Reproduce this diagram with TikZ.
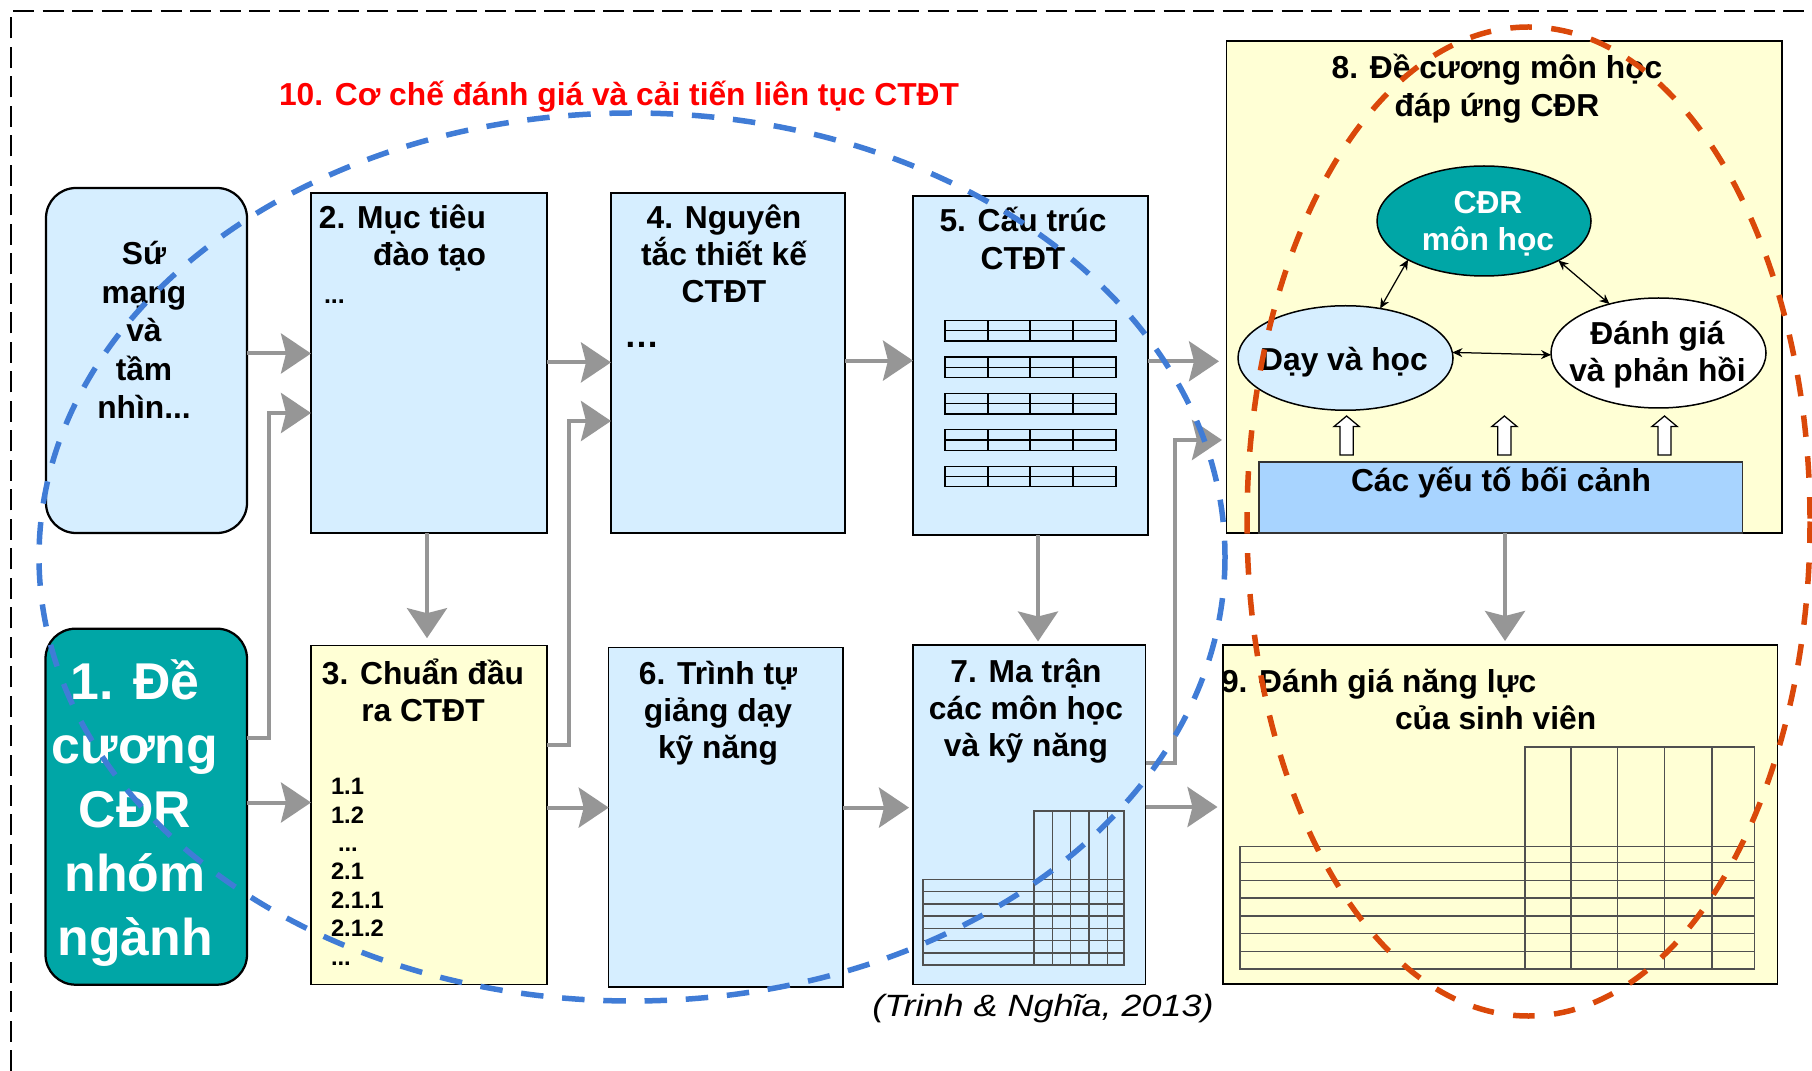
\documentclass[tikz,border=0pt]{standalone}
\usepackage{fontspec}
\setmainfont{Liberation Sans}
\usetikzlibrary{arrows.meta,shapes.geometric,fit,calc}

\definecolor{lblue}{RGB}{214,238,255}
\definecolor{lyel}{RGB}{255,255,213}
\definecolor{tealbox}{RGB}{0,166,166}
\definecolor{ctxb}{RGB}{168,212,255}
\definecolor{garr}{RGB}{150,150,150}
\definecolor{bdash}{RGB}{64,124,214}
\definecolor{odash}{RGB}{218,72,10}
\definecolor{gline}{RGB}{80,80,80}

\newcommand\mlc[1]{\vtop{\lineskiplimit=-\maxdimen\halign{\hfil##\hfil\cr#1\crcr}}}
\newcommand\mlr[1]{\vtop{\lineskiplimit=-\maxdimen\halign{\hfil##\cr#1\crcr}}}
\newcommand\mll[1]{\vtop{\lineskiplimit=-\maxdimen\halign{##\hfil\cr#1\crcr}}}

\tikzset{
  box/.style={draw=black, line width=0.6pt, inner sep=0pt, outer sep=0pt},
  rbox/.style={box, rounded corners=12pt, line width=0.9pt},
  lbl/.style={inner sep=0pt, outer sep=0pt, font=\bfseries\fontsize{12.7}{14.9}\selectfont},
  garrow/.style={draw=garr, line width=1.6pt, -{Stealth[length=12pt,width=16pt,inset=2pt]}},
  darrow/.style={draw=black, line width=0.5pt, {Stealth[length=4pt,width=3.6pt]}-{Stealth[length=4pt,width=3.6pt]}},
  grid7/.style={draw=gline, line width=0.5pt},
  grid9/.style={draw=gline, line width=0.65pt},
  tbl/.style={draw=black, line width=0.5pt},
  blockup/.style={draw=black, fill=white, line width=0.5pt},
  bell/.style={draw=bdash, line width=2.2pt, dash pattern=on 9pt off 7.5pt},
  oell/.style={draw=odash, line width=2.2pt, dash pattern=on 8.6pt off 7.8pt},
  ell/.style={ellipse, draw=black, line width=0.6pt, inner sep=0pt, outer sep=0pt},
}

\begin{document}
\begin{tikzpicture}[x=0.4pt, y=-0.4pt]
\useasboundingbox (0,0) rectangle (1812,1071);

% outer dashed frame
\draw[line width=1pt, dash pattern=on 8.4pt off 3.4pt] (11,1071) -- (11,11) -- (1812,11);

% boxes
\node[rbox, fill=lblue, fit={(46,188) (247,533)}] (m) {};
\node[rbox, fill=tealbox, fit={(45.5,628.7) (247,984.7)}] (b1) {};
\node[box, fill=lblue, fit={(311,193) (547,533)}] (b2) {};
\node[box, fill=lyel, fit={(311,645.7) (547,984.7)}] (b3) {};
\node[box, fill=lblue, fit={(611,193) (845,533)}] (b4) {};
\node[box, fill=lblue, fit={(608.7,647.7) (842.8,987)}] (b6) {};
\node[box, fill=lblue, fit={(913,196) (1148,535)}] (b5) {};
\node[box, fill=lblue, fit={(913,645) (1145.7,984.7)}] (b7) {};
\node[box, fill=lyel, fit={(1226.5,41) (1782,533)}] (b8) {};
\node[box, draw=black!80, fill=ctxb, fit={(1259,462) (1742.5,533)}] (ctx) {};
\node[box, fill=lyel, fit={(1223,645) (1777.6,984)}] (b9) {};

% mini tables in box 5
\foreach \yy in {320.6,357,393.4,429.8,466.2} {
  \draw[tbl] (945,\yy) rectangle (1116,\yy+20.5);
  \draw[tbl] (945,\yy+10.25) -- (1116,\yy+10.25);
  \foreach \xx in {988,1030,1073} \draw[tbl] (\xx,\yy) -- (\xx,\yy+20.5);
}

% matrix in box 7
\draw[grid7] (1034,811) rectangle (1124,965);
\foreach \xx in {1052.7,1070.5,1089,1107.3} \draw[grid7] (\xx,811) -- (\xx,965);
\draw[grid7] (923,879.7) rectangle (1124,965);
\foreach \yy in {891.6,904,916,928.5,940.7,953} \draw[grid7] (923,\yy) -- (1124,\yy);

% table in box 9
\draw[grid9] (1524.7,747.3) rectangle (1754.6,969.1);
\foreach \xx in {1570.8,1617.6,1664.4,1711.7} \draw[grid9] (\xx,747.3) -- (\xx,969.1);
\draw[grid9] (1240,846.5) rectangle (1754.6,969.1);
\foreach \yy in {862.4,880.4,898,916.3,933.6,951.5} \draw[grid9] (1240,\yy) -- (1754.6,\yy);

% ellipses in box 8
\node[ell, fill=tealbox, minimum width=85.6pt, minimum height=44pt] (cdr) at (1484,221) {};
\node[ell, fill=lblue, minimum width=86pt, minimum height=41.8pt] (day) at (1345.5,358) {};
\node[ell, fill=white, minimum width=86pt, minimum height=44pt] (dg) at (1658.5,353) {};
\draw[darrow] (cdr.207.5) -- (day.55);
\draw[darrow] (cdr.332.5) -- (dg.135);
\draw[darrow] (day.3) -- (dg.181);

% hollow up arrows
\foreach \cx in {1346.6,1504.4,1664.5} {
  \draw[blockup] (\cx-6.6,455) -- (\cx-6.6,426.6) -- (\cx-12.7,426.6) -- (\cx,416)
     -- (\cx+12.7,426.6) -- (\cx+6.6,426.6) -- (\cx+6.6,455) -- cycle;
}

% texts
\node[lbl, text=red, anchor=base west] (t10) at (279,105.3) {10. Cơ chế đánh giá và cải tiến liên tục CTĐT};
\node[lbl, anchor=base, font=\bfseries\fontsize{12.7}{15.4}\selectfont] (tm) at (144,265) {\mlc{Sứ\cr mạng\cr và\cr tầm\cr nhìn...}};
\node[lbl, anchor=base east] (t2) at (486,228.5) {\mlr{2. Mục tiêu\cr đào tạo}};
\node[lbl, anchor=base west, font=\bfseries\fontsize{10}{12}\selectfont] (t2d) at (324,303.5) {...};
\node[lbl, anchor=base] (t4) at (724,228.5) {\mlc{4. Nguyên\cr tắc thiết kế\cr CTĐT}};
\node[lbl, anchor=base west, font=\bfseries\fontsize{14}{16}\selectfont] (t4d) at (624,348) {…};
\node[lbl, anchor=base] (t5) at (1023,232) {\mlc{5. Cấu trúc\cr CTĐT}};
\node[lbl, anchor=base] (t8) at (1497,79) {\mlc{8. Đề cương môn học\cr đáp ứng CĐR}};
\node[lbl, anchor=base, text=white] (tcdr) at (1488,213.5) {\mlc{CĐR\cr môn học}};
\node[lbl, anchor=base] (tday) at (1344,371) {Dạy và học};
\node[lbl, anchor=base] (tdg) at (1657.5,344.5) {\mlc{Đánh giá\cr và phản hồi}};
\node[lbl, anchor=base] (tctx) at (1501,491) {Các yếu tố bối cảnh};
\node[lbl, anchor=base] (t3) at (423,684) {\mlc{3. Chuẩn đầu\cr ra CTĐT}};
\node[lbl, anchor=base west, font=\bfseries\fontsize{9.5}{11.36}\selectfont] (t3l) at (331,794.7)
  {\mll{1.1\cr 1.2\cr \kern2.8pt...\cr 2.1\cr 2.1.1\cr 2.1.2\cr ...}};
\node[lbl, anchor=base, text=white, font=\bfseries\fontsize{20.7}{25.6}\selectfont] (t1) at (135,699)
  {\mlc{1. Đề\cr cương\cr CĐR\cr nhóm\cr ngành}};
\node[lbl, anchor=base] (t6) at (718,684) {\mlc{6. Trình tự\cr giảng dạy\cr kỹ năng}};
\node[lbl, anchor=base] (t7) at (1026,682) {\mlc{7. Ma trận\cr các môn học\cr và kỹ năng}};
\node[lbl, anchor=base west] (t9a) at (1221,692.4) {9. Đánh giá năng lực};
\node[lbl, anchor=base west] (t9b) at (1395,729.7) {của sinh viên};
\node[anchor=base, inner sep=0pt, font=\fontsize{12.3}{14}\selectfont\itshape] (cite) at (1043,1016)
  {\scalebox{1.17}[1]{(Trinh \& Nghĩa, 2013)}};

% gray connectors
\draw[garrow] (m.east |- 0,353.5) -- (b2.west |- 0,353.5);
\draw[garrow] (b1.east |- 0,737.5) -- (269,737.5) |- (b2.west |- 0,413);
\draw[garrow] (b1.east |- 0,802.5) -- (b3.west |- 0,802.5);
\draw[garrow, shorten >=3pt] (b2.south -| 427,0) -- (b3.north -| 427,0);
\draw[garrow] (b2.east |- 0,362.4) -- (b4.west |- 0,362.4);
\draw[garrow] (b3.east |- 0,745) -- (569.4,745) |- (b4.west |- 0,421);
\draw[garrow] (b3.east |- 0,807.6) -- (b6.west |- 0,807.6);
\draw[garrow] (b4.east |- 0,360.6) -- (b5.west |- 0,360.6);
\draw[garrow, shorten >=3pt] (b5.east |- 0,361.3) -- (b8.west |- 0,361.3);
\draw[garrow, shorten >=1.4pt] (b5.south -| 1038,0) -- (b7.north -| 1038,0);
\draw[garrow, shorten >=1.8pt] (b7.east |- 0,763) -- (1175.3,763) |- (b8.west |- 0,440);
\draw[garrow, shorten >=1.6pt] (b6.east |- 0,807.6) -- (b7.west |- 0,807.6);
\draw[garrow, shorten >=2.2pt] (b7.east |- 0,807) -- (b9.west |- 0,807);
\draw[garrow, shorten >=1.6pt] (b8.south -| 1505,0) -- (b9.north -| 1505,0);

% dashed ellipses
\draw[bell] (632,557) ellipse [x radius=593, y radius=444];
\draw[oell] (1528.5,521.5) ellipse [x radius=281.5, y radius=494.5];
\end{tikzpicture}
\end{document}
